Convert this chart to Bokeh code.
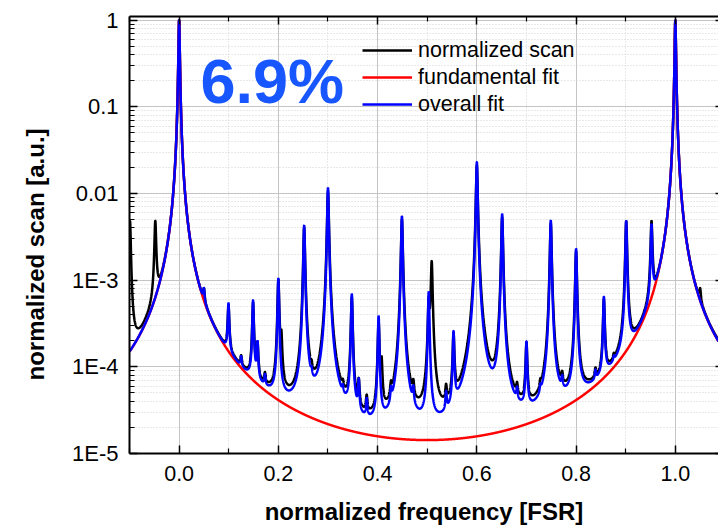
import numpy as np
from bokeh.plotting import figure
from bokeh.models import (Range1d, FixedTicker, LinearAxis, LogAxis, Legend, LegendItem,
                          Label, Title, PrintfTickFormatter, CustomJSTickFormatter,
                          ColumnDataSource)
from bokeh.embed import file_html
from bokeh.resources import INLINE

# ---------------- data ----------------
x_start, x_end = -0.1, 1.087
y_start, y_end = 1e-5, 1.1

# fundamental (Airy) fit: minimum ~1.43E-5 at 0.5 FSR
fundamental_coef = 7.0e4

# higher-order mode peaks of the overall fit (position [FSR], amplitude)
fit_peak_pos = [0.050, 0.0995, 0.125, 0.149, 0.158, 0.173, 0.200, 0.252, 0.267, 0.300,
                0.330, 0.348, 0.362, 0.378, 0.402, 0.427, 0.449, 0.472, 0.503, 0.538,
                0.553, 0.600, 0.651, 0.681, 0.700, 0.728, 0.749, 0.772, 0.800, 0.839,
                0.856, 0.876, 0.901, 0.952]
fit_peak_amp = [2.3e-4, 3.9e-4, 3.0e-5, 5.1e-4, 1.2e-4, 2.0e-5, 1.0e-3, 4.25e-3, 1.5e-5, 1.16e-2,
                1.0e-5, 6.6e-4, 4.0e-5, 1.6e-5, 3.6e-4, 1.7e-5, 5.45e-3, 2.0e-5, 7.1e-4, 2.0e-5,
                2.2e-4, 2.3e-2, 5.75e-3, 1.5e-5, 1.6e-4, 1.0e-5, 4.85e-3, 2.0e-5, 2.25e-3, 2.0e-5,
                5.6e-4, 1.5e-5, 4.65e-3, 3.8e-3]
fit_peak_coef = 5.0e4

# peaks of the measured (normalized) scan
scan_peak_pos = [0.050, 0.0995, 0.125, 0.149, 0.158, 0.173, 0.200, 0.206, 0.252, 0.267,
                 0.300, 0.330, 0.348, 0.362, 0.378, 0.402, 0.408, 0.427, 0.449, 0.472,
                 0.503, 0.509, 0.538, 0.553, 0.600, 0.651, 0.681, 0.700, 0.728, 0.749,
                 0.772, 0.800, 0.839, 0.856, 0.876, 0.901, 0.952]
scan_peak_amp = [2.2e-4, 3.6e-4, 3.0e-5, 4.7e-4, 1.1e-4, 2.0e-5, 9.5e-4, 1.5e-4, 4.0e-3, 1.5e-5,
                 1.05e-2, 1.0e-5, 6.0e-4, 3.5e-5, 1.6e-5, 3.0e-4, 8.0e-5, 1.7e-5, 5.0e-3, 2.0e-5,
                 5.0e-4, 1.6e-3, 2.0e-5, 2.0e-4, 2.1e-2, 5.3e-3, 1.5e-5, 1.5e-4, 1.0e-5, 4.5e-3,
                 2.0e-5, 2.1e-3, 2.0e-5, 5.2e-4, 1.5e-5, 4.65e-3, 4.2e-3]
scan_peak_coef = 3.6e4

x_major_ticks = [0.0, 0.2, 0.4, 0.6, 0.8, 1.0]
x_minor_ticks = [-0.1, 0.1, 0.3, 0.5, 0.7, 0.9, 1.1]
y_major_ticks = [1e-5, 1e-4, 1e-3, 1e-2, 1e-1, 1.0]
y_tick_labels = ["1E-5", "1E-4", "1E-3", "0.01", "0.1", "1"]

legend_labels = ["normalized scan", "fundamental fit", "overall fit"]
annotation_text = "6.9%"
x_title = "normalized frequency [FSR]"
y_title = "normalized scan [a.u.]"

# ---------------- model curves ----------------
pk = np.array(scan_peak_pos + fit_peak_pos)
extra = np.concatenate([pk - 1, pk, pk + 1, [0.0, 1.0]])
extra = extra[(extra >= x_start) & (extra <= x_end)]
x = np.union1d(np.linspace(x_start, x_end, 12000), extra)

fund = 1.0 / (1.0 + fundamental_coef * np.sin(np.pi * x) ** 2)
fit = fund.copy()
for p0, a in zip(fit_peak_pos, fit_peak_amp):
    fit += a / (1.0 + fit_peak_coef * (np.pi * (x - p0)) ** 2)
scan = fund.copy()
for p0, a in zip(scan_peak_pos, scan_peak_amp):
    scan += a / (1.0 + scan_peak_coef * np.sin(np.pi * (x - p0)) ** 2)

src = ColumnDataSource(dict(x=x, fund=fund, fit=fit, scan=scan))

# ---------------- figure ----------------
FONT = "Liberation Sans"
p = figure(width=718, height=528, x_range=Range1d(x_start, x_end),
           y_range=Range1d(y_start, y_end), y_axis_type="log",
           output_backend="svg", toolbar_location=None,
           min_border_left=129, min_border_right=0, min_border_top=16, min_border_bottom=75)
p.outline_line_color = None
p.background_fill_color = "white"
p.border_fill_color = "white"

r_scan = p.line("x", "scan", source=src, color="#000000", line_width=2.5)
r_fund = p.line("x", "fund", source=src, color="#ff0000", line_width=2.5)
r_fit = p.line("x", "fit", source=src, color="#0000ff", line_width=2.5)

xt = FixedTicker(ticks=x_major_ticks, minor_ticks=x_minor_ticks)
ymin = [m * t for t in y_major_ticks[:-1] for m in range(2, 10)]
yt = FixedTicker(ticks=y_major_ticks, minor_ticks=ymin)
yfmt = CustomJSTickFormatter(args=dict(vals=y_major_ticks, labs=y_tick_labels), code="""
for (let i = 0; i < vals.length; i++) {
  if (Math.abs(Math.log10(tick) - Math.log10(vals[i])) < 1e-6) return labs[i];
}
return '';
""")

def style_axis(ax):
    ax.axis_line_width = 2
    ax.axis_line_color = "black"
    ax.major_tick_in = 8
    ax.major_tick_out = 0
    ax.minor_tick_in = 5
    ax.minor_tick_out = 0
    ax.major_tick_line_width = 1.5
    ax.minor_tick_line_width = 1.2
    ax.major_tick_line_color = "black"
    ax.minor_tick_line_color = "black"

xa = p.xaxis[0]
xa.ticker = xt
xa.formatter = PrintfTickFormatter(format="%.1f")
style_axis(xa)
xa.major_label_text_font = FONT
xa.major_label_text_font_size = "21.5px"
xa.major_label_text_color = "black"
xa.major_label_standoff = 12
xa.axis_label = x_title
xa.axis_label_text_font = FONT
xa.axis_label_text_font_style = "bold"
xa.axis_label_text_font_size = "24px"
xa.axis_label_text_color = "black"
xa.axis_label_standoff = 14

ya = p.yaxis[0]
ya.ticker = yt
ya.formatter = yfmt
style_axis(ya)
ya.major_label_text_font = FONT
ya.major_label_text_font_size = "22px"
ya.major_label_text_color = "black"
ya.major_label_standoff = 11

top = LinearAxis(ticker=xt, major_label_text_font_size="1px", major_label_text_alpha=0,
                 major_label_standoff=0)
style_axis(top)
p.add_layout(top, "above")
right = LogAxis(ticker=FixedTicker(ticks=y_major_ticks), major_label_text_font_size="1px",
                major_label_text_alpha=0,
                major_label_standoff=0, axis_line_color=None, major_tick_in=3,
                major_tick_out=0, minor_tick_in=0, minor_tick_out=0,
                major_tick_line_width=1.5, major_tick_line_color="black")
p.add_layout(right, "right")

for g in (p.xgrid, p.ygrid):
    g.grid_line_color = "#c4c4c4"
    g.grid_line_width = 1
    g.minor_grid_line_color = "#d2d2d2"
    g.minor_grid_line_dash = "1 2"
    g.minor_grid_line_width = 1

p.add_layout(Title(text=y_title, align="left", offset=73, standoff=38,
                   vertical_align="top",
                   text_font=FONT, text_font_style="bold", text_font_size="24px",
                   text_color="black"), "left")

p.add_layout(Label(x=0.043, y=0.2, text=annotation_text, text_font=FONT,
                   text_font_style="bold", text_font_size="63px", text_color="#1856ff",
                   text_baseline="alphabetic", text_align="left"))

legend = Legend(items=[LegendItem(label=legend_labels[0], renderers=[r_scan]),
                       LegendItem(label=legend_labels[1], renderers=[r_fund]),
                       LegendItem(label=legend_labels[2], renderers=[r_fit])],
                location=(233, 336))
legend.background_fill_alpha = 0
legend.border_line_alpha = 0
legend.padding = 0
legend.margin = 0
legend.spacing = 1
legend.glyph_width = 50
legend.glyph_height = 26
legend.label_height = 26
legend.label_standoff = 6
legend.label_text_font = FONT
legend.label_text_font_size = "21.5px"
legend.label_text_color = "black"
p.add_layout(legend)

open("out.html", "w").write(file_html(p, INLINE))
